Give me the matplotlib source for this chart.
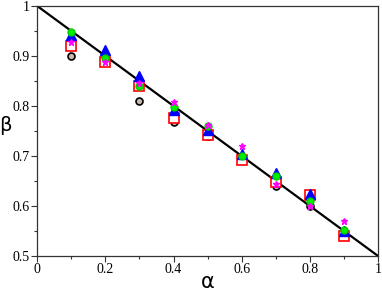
import numpy as np
import matplotlib
matplotlib.use('Agg')
import matplotlib.pyplot as plt
from matplotlib.ticker import MultipleLocator

alpha = [0.1, 0.2, 0.3, 0.4, 0.5, 0.6, 0.7, 0.8, 0.9]
beta_black   = [0.900, 0.890, 0.810, 0.768, 0.740, 0.692, 0.640, 0.600, 0.540]
beta_red     = [0.920, 0.888, 0.840, 0.776, 0.742, 0.692, 0.648, 0.622, 0.540]
beta_blue    = [0.942, 0.912, 0.860, 0.792, 0.752, 0.704, 0.666, 0.624, 0.550]
beta_green   = [0.948, 0.895, 0.840, 0.798, 0.760, 0.700, 0.660, 0.610, 0.552]
beta_magenta = [0.928, 0.888, 0.845, 0.808, 0.762, 0.720, 0.645, 0.600, 0.570]
line_x = [0.0, 1.0]
line_y = [1.0, 0.5]

fig = plt.figure(figsize=(3.82, 2.94), dpi=100)
ax = fig.add_axes([0.097, 0.129, 0.893, 0.851])

ax.plot(line_x, line_y, color='black', lw=1.6, zorder=2)
ax.plot(alpha, beta_black, 'o', ms=5, mfc='#c8b8b0', mec='black', mew=1.2, zorder=3)
ax.plot(alpha, beta_red, 's', ms=6.5, mfc='white', mec='red', mew=1.2, zorder=3)
ax.plot(alpha, beta_blue, '^', ms=6.5, mfc='blue', mec='blue', zorder=4)
ax.plot(alpha, beta_green, 'o', ms=5, mfc='#00ee00', mec='#00cc00', zorder=5)
ax.plot(alpha, beta_magenta, '*', ms=5, mfc='magenta', mec='magenta', zorder=6)

ax.set_xlim(0, 1)
ax.set_ylim(0.5, 1)
ax.xaxis.set_minor_locator(MultipleLocator(0.1))
ax.yaxis.set_minor_locator(MultipleLocator(0.05))
ax.set_xticks([0, 0.2, 0.4, 0.6, 0.8, 1.0])
ax.set_xticklabels(['0', '0.2', '0.4', '0.6', '0.8', '1'])
ax.set_yticks([0.5, 0.6, 0.7, 0.8, 0.9, 1.0])
ax.set_yticklabels(['0.5', '0.6', '0.7', '0.8', '0.9', '1'])
for lab in ax.get_xticklabels() + ax.get_yticklabels():
    lab.set_fontfamily('Liberation Serif')
    lab.set_fontsize(10)
ax.tick_params(which='major', direction='out', length=4, width=0.8, pad=1, colors='#333333', labelcolor='black')
ax.tick_params(which='minor', direction='out', length=2.5, width=0.8, colors='#333333')
for s in ax.spines.values():
    s.set_linewidth(0.9)
    s.set_color('#333333')

ax.set_xlabel('α', fontsize=15, labelpad=-3)
ax.set_ylabel('β', fontsize=14, rotation=0, ha='center', va='center')
ax.yaxis.set_label_coords(-0.094, 0.52)

plt.savefig('out.png', dpi=100)
